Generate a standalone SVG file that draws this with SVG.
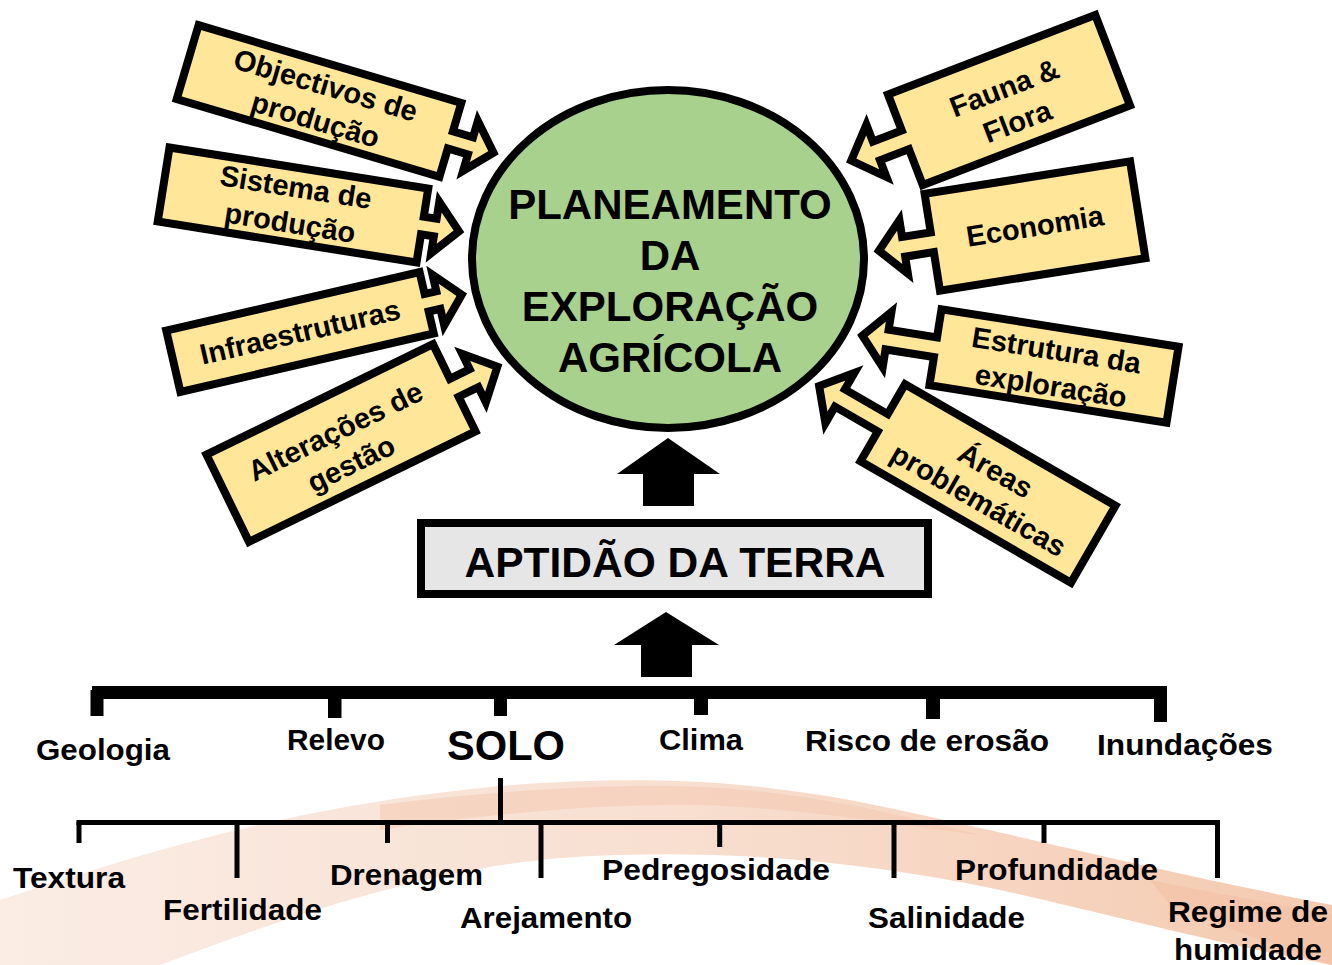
<svg xmlns="http://www.w3.org/2000/svg" width="1332" height="965" viewBox="0 0 1332 965">
<defs>
<linearGradient id="sw" x1="0" y1="0" x2="1" y2="0">
<stop offset="0" stop-color="#f8e0d2"/>
<stop offset="0.5" stop-color="#f4cbb3"/>
<stop offset="1" stop-color="#efa77c"/>
</linearGradient>
<style>
.co{fill:#ffe699;stroke:#000;stroke-width:8;stroke-linejoin:miter;stroke-miterlimit:10}
.t{font-family:"Liberation Sans",Arial,sans-serif;font-weight:bold;fill:#000}
.ct{font-size:29px;text-anchor:middle}
.lb{font-size:29px}
.bar{fill:#000}
.thin{stroke:#000;stroke-width:5;fill:none}
</style>
</defs>
<rect width="1332" height="965" fill="#fff"/>
<g id="background" opacity="0.6">
<path d="M0,900 C150,850 300,805 500,786 C650,774 750,782 850,800 C1000,830 1150,870 1332,905 L1332,965 C1200,940 1100,912 1000,890 C850,858 700,848 560,858 C420,870 280,920 160,965 L0,965 Z" fill="url(#sw)"/>
<path d="M380,805 C500,790 620,782 720,788 C820,795 900,815 980,835 C900,825 800,808 700,805 C600,803 480,815 380,830 Z" fill="#eea27a" opacity="0.5"/>
<path d="M1150,880 C1220,895 1290,905 1332,915 L1332,965 C1290,950 1230,930 1170,905 Z" fill="#ec9462" opacity="0.5"/>
</g>
<g id="planeamento">
<ellipse cx="668" cy="259" rx="196" ry="169" fill="#a9d18e" stroke="#000" stroke-width="8"/>
<text class="t" font-size="42" text-anchor="middle" x="670" y="219">PLANEAMENTO</text>
<text class="t" font-size="42" text-anchor="middle" x="670" y="270">DA</text>
<text class="t" font-size="42" text-anchor="middle" x="670" y="321">EXPLORAÇÃO</text>
<text class="t" font-size="42" text-anchor="middle" x="670" y="372">AGRÍCOLA</text>
</g>
<g id="c-objectivos" transform="translate(319,101) rotate(16.5)">
<path class="co" d="M-137,-38.5 H137 V-9 H158 V-26 L182,0 L158,26 V9 H137 V38.5 H-137 Z"/>
<text class="t ct" x="2" y="-7">Objectivos de</text>
<text class="t ct" x="2" y="29">produção</text>
</g>
<g id="c-sistema" transform="translate(293,205) rotate(9)">
<path class="co" d="M-131,-37.5 H131 V-9 H144 V-26 L168,0 L144,26 V9 H131 V37.5 H-131 Z"/>
<text class="t ct" x="0" y="-8">Sistema de</text>
<text class="t ct" x="0" y="28">produção</text>
</g>
<g id="c-infra" transform="translate(300,332) rotate(-13)">
<path class="co" d="M-130,-31.5 H130 V-9 H142 V-26 L166,0 L142,26 V9 H130 V31.5 H-130 Z"/>
<text class="t ct" x="0" y="10">Infraestruturas</text>
</g>
<g id="c-alteracoes" transform="translate(341,443) rotate(-26)">
<path class="co" d="M-126,-48.5 H126 V-10 H148 V-27 L174,0 L148,27 V10 H126 V48.5 H-126 Z"/>
<text class="t ct" x="0" y="-3">Alterações de</text>
<text class="t ct" x="0" y="33">gestão</text>
</g>
<g id="c-fauna" transform="translate(1009,100) rotate(-21)">
<path class="co" d="M111,-48.5 H-111 V-10 H-142 V-28 L-169,0 L-142,28 V10 H-111 V48.5 H111 Z"/>
<text class="t ct" x="0" y="-3">Fauna &amp;</text>
<text class="t ct" x="0" y="33">Flora</text>
</g>
<g id="c-economia" transform="translate(1035,226) rotate(-9)">
<path class="co" d="M104,-49 H-104 V-10 H-133 V-27 L-158,0 L-133,27 V10 H-104 V49 H104 Z"/>
<text class="t ct" x="0" y="10">Economia</text>
</g>
<g id="c-estrutura" transform="translate(1054,366) rotate(9)">
<path class="co" d="M120,-38.5 H-120 V-10 H-169 V-28 L-194,0 L-169,28 V10 H-120 V38.5 H120 Z"/>
<text class="t ct" x="0" y="-6">Estrutura da</text>
<text class="t ct" x="0" y="30">exploração</text>
</g>
<g id="c-areas" transform="translate(988,483.5) rotate(30)">
<path class="co" d="M121.5,-44.5 H-121.5 V-10 H-171 V-29 L-195,0 L-171,29 V10 H-121.5 V44.5 H121.5 Z"/>
<text class="t ct" x="0" y="-5">Áreas</text>
<text class="t ct" x="0" y="29">problemáticas</text>
</g>
<g id="aptidao">
<rect x="421" y="523" width="507" height="71" fill="#e6e6e6" stroke="#000" stroke-width="8"/>
<text class="t" font-size="42.5" text-anchor="middle" x="675" y="577">APTIDÃO DA TERRA</text>
</g>
<g id="connectors">
<polygon points="668,438 720,474 694,474 694,506 643,506 643,474 617,474" fill="#000"/>
<polygon points="666,612 719,645 692,645 692,677 641,677 641,645 614,645" fill="#000"/>
<rect class="bar" x="92" y="686" width="1075" height="13"/>
<rect class="bar" x="90.5" y="690" width="13" height="26"/>
<rect class="bar" x="328" y="690" width="13.5" height="28"/>
<rect class="bar" x="494" y="690" width="13" height="26"/>
<rect class="bar" x="694" y="690" width="14" height="25"/>
<rect class="bar" x="926" y="690" width="14" height="29"/>
<rect class="bar" x="1154" y="690" width="13" height="32"/>
<line class="thin" x1="500.5" y1="778" x2="500.5" y2="823"/>
<line class="thin" x1="76.5" y1="822.5" x2="1220" y2="822.5"/>
<line class="thin" x1="79" y1="822" x2="79" y2="843"/>
<line class="thin" x1="237" y1="822" x2="237" y2="878"/>
<line class="thin" x1="387.5" y1="822" x2="387.5" y2="843"/>
<line class="thin" x1="541" y1="822" x2="541" y2="878"/>
<line class="thin" x1="719.7" y1="822" x2="719.7" y2="847"/>
<line class="thin" x1="894" y1="822" x2="894" y2="878"/>
<line class="thin" x1="1044" y1="822" x2="1044" y2="843"/>
<line class="thin" x1="1217.5" y1="820" x2="1217.5" y2="878"/>
</g>
<g id="n-geologia"><text class="t lb" x="36" y="760" textLength="134" lengthAdjust="spacingAndGlyphs">Geologia</text></g>
<g id="n-relevo"><text class="t lb" x="287" y="750" textLength="98" lengthAdjust="spacingAndGlyphs">Relevo</text></g>
<g id="n-solo"><text class="t" font-size="42" x="447" y="760" textLength="118" lengthAdjust="spacingAndGlyphs">SOLO</text></g>
<g id="n-clima"><text class="t lb" x="659" y="750" textLength="84" lengthAdjust="spacingAndGlyphs">Clima</text></g>
<g id="n-risco"><text class="t lb" x="805" y="751" textLength="244" lengthAdjust="spacingAndGlyphs">Risco de erosão</text></g>
<g id="n-inundacoes"><text class="t lb" x="1097" y="755" textLength="176" lengthAdjust="spacingAndGlyphs">Inundações</text></g>
<g id="n-textura"><text class="t lb" x="13" y="888" textLength="112" lengthAdjust="spacingAndGlyphs">Textura</text></g>
<g id="n-fertilidade"><text class="t lb" x="163" y="920" textLength="159" lengthAdjust="spacingAndGlyphs">Fertilidade</text></g>
<g id="n-drenagem"><text class="t lb" x="330" y="885" textLength="153" lengthAdjust="spacingAndGlyphs">Drenagem</text></g>
<g id="n-arejamento"><text class="t lb" x="460" y="928" textLength="172" lengthAdjust="spacingAndGlyphs">Arejamento</text></g>
<g id="n-pedregosidade"><text class="t lb" x="602" y="880" textLength="228" lengthAdjust="spacingAndGlyphs">Pedregosidade</text></g>
<g id="n-salinidade"><text class="t lb" x="868" y="928" textLength="157" lengthAdjust="spacingAndGlyphs">Salinidade</text></g>
<g id="n-profundidade"><text class="t lb" x="955" y="880" textLength="203" lengthAdjust="spacingAndGlyphs">Profundidade</text></g>
<g id="n-regime"><text class="t lb" x="1168" y="922" textLength="160" lengthAdjust="spacingAndGlyphs">Regime de</text><text class="t lb" x="1174" y="960" textLength="148" lengthAdjust="spacingAndGlyphs">humidade</text></g>
</svg>
